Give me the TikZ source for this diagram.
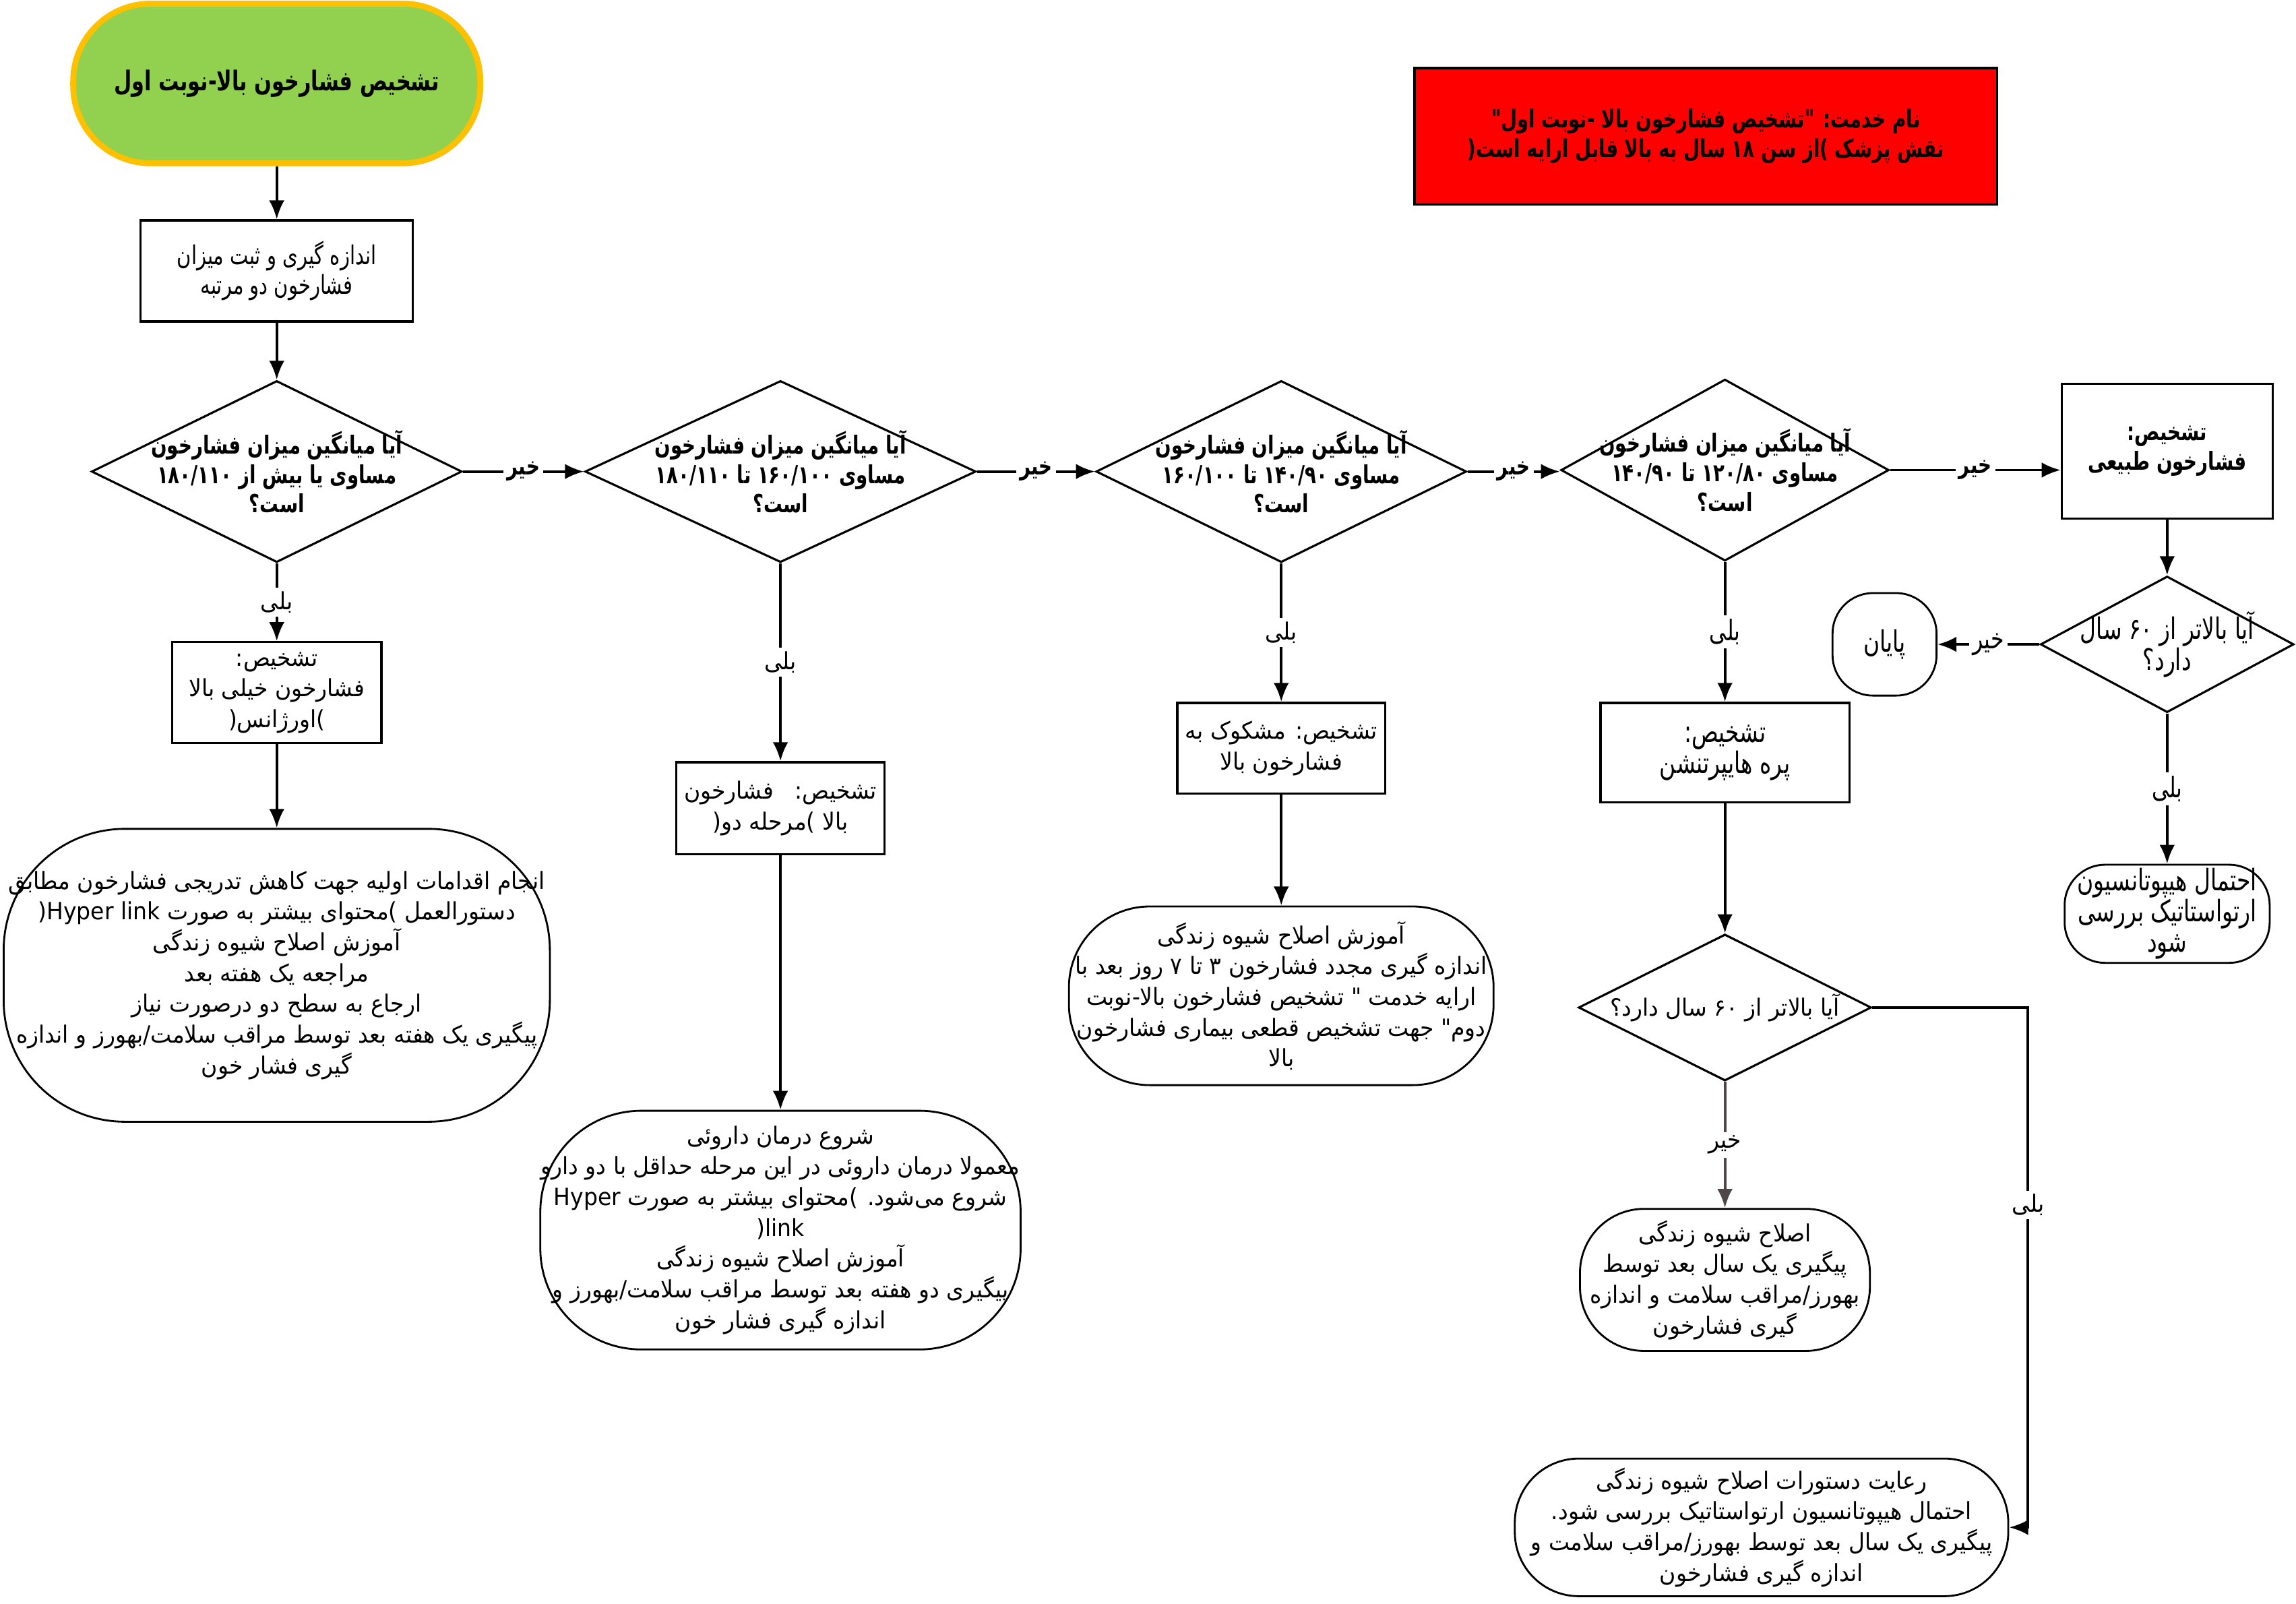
\documentclass[tikz,border=0pt]{standalone}
\usepackage{fontspec}
\usetikzlibrary{shapes.geometric,arrows.meta}
\TeXXeTstate=1
\newfontfamily\fasans[Script=Arabic,FakeStretch=0.94]{DejaVu Sans}
\newfontfamily\fanarrow[Script=Arabic,FakeStretch=0.75]{DejaVu Sans}
\definecolor{startgreen}{HTML}{92D050}
\definecolor{startorange}{HTML}{FFC000}
\definecolor{edgegray}{HTML}{4D4845}
\tikzset{
  sz/.style 2 args={minimum width=#1*0.2173mm,minimum height=#2*0.2173mm},
  box/.style={draw,line width=0.9pt,inner sep=0pt},
  dia/.style={draw,diamond,line width=0.9pt,inner sep=0pt},
  term/.style={draw,line width=0.8pt,inner sep=0pt,rounded corners=#1},
  tsans/.style={align=center,font=\fasans\fontsize{10}{13}\selectfont},
  tnar/.style={align=center,font=\fanarrow\fontsize{11}{12.5}\selectfont},
  tnarl/.style={align=center,font=\fanarrow\fontsize{12.5}{13}\selectfont},
  tnarb/.style={align=center,font=\fanarrow\bfseries\fontsize{10.5}{12.5}\selectfont},
  arr/.style={line width=1.1pt,-{Latex[length=8pt,width=6.5pt]}},
  lbl/.style={fill=white,inner sep=1.5pt,font=\fasans\fontsize{10}{12}\selectfont},
  lbln/.style={fill=white,inner sep=1.5pt,font=\fanarrow\fontsize{12}{13}\selectfont},
  lblb/.style={fill=white,inner sep=1.5pt,font=\fanarrow\bfseries\fontsize{10.5}{12}\selectfont}
}
\begin{document}
\begin{tikzpicture}[x=0.2173mm,y=-0.2173mm]
\useasboundingbox (0,0) rectangle (1568,1095);
% start and note
\node[term=1.15cm,sz={278}{109},fill=startgreen,draw=startorange,line width=2.5pt,
  font=\fanarrow\bfseries\fontsize{11.5}{14}\selectfont] (start) at (189,57) {\beginR تشخیص فشارخون بالا-نوبت اول\endR};
\node[box,fill=red,sz={398}{93},label={[tnarb]center:{\beginR نام خدمت: "تشخیص فشارخون بالا -نوبت اول"\endR\\\beginR نقش پزشک )از سن ۱۸ سال به بالا قابل ارایه است(\endR}}] (note) at (1165,93) {};
% first column
\node[box,sz={186}{69},label={[tnar]center:{\beginR اندازه گیری و ثبت میزان\endR\\\beginR فشارخون دو مرتبه\endR}}] (meas) at (189,185) {};
\node[dia,sz={253}{124},label={[tnarb]center:{\beginR آیا میانگین میزان فشارخون\endR\\\beginR مساوی یا بیش از ۱۸۰/۱۱۰\endR\\\beginR است؟\endR}}] (d1) at (189,322) {};
\node[box,sz={143}{69},label={[tsans]center:{\beginR تشخیص:\endR\\\beginR فشارخون خیلی بالا\endR\\\beginR )اورژانس(\endR}}] (vhigh) at (189,473) {};
\node[term=1.8cm,sz={373}{200},label={[tsans]center:{\beginR انجام اقدامات اولیه جهت کاهش تدریجی فشارخون مطابق\endR\\\beginR دستورالعمل )محتوای بیشتر به صورت \beginL Hyper link\endL{}(\endR\\\beginR آموزش اصلاح شیوه زندگی\endR\\\beginR مراجعه یک هفته بعد\endR\\\beginR ارجاع به سطح دو درصورت نیاز\endR\\\beginR پیگیری یک هفته بعد توسط مراقب سلامت/بهورز و اندازه\endR\\\beginR گیری فشار خون\endR}}] (init) at (189,666) {};
% second column
\node[dia,sz={267}{124},label={[tnarb]center:{\beginR آیا میانگین میزان فشارخون\endR\\\beginR مساوی ۱۶۰/۱۰۰ تا ۱۸۰/۱۱۰\endR\\\beginR است؟\endR}}] (d2) at (533,322) {};
\node[box,sz={142}{63},label={[tsans]center:{\beginR تشخیص:\ \ \ فشارخون\endR\\\beginR بالا )مرحله دو(\endR}}] (st2) at (533,552) {};
\node[term=1.5cm,sz={328}{163},label={[tsans]center:{\beginR شروع درمان داروئی\endR\\\beginR معمولا درمان داروئی در این مرحله حداقل با دو دارو\endR\\\beginR شروع می‌شود. )محتوای بیشتر به صورت \beginL Hyper\endL{}\endR\\\beginR\beginL link\endL{}(\endR\\\beginR آموزش اصلاح شیوه زندگی\endR\\\beginR پیگیری دو هفته بعد توسط مراقب سلامت/بهورز و\endR\\\beginR اندازه گیری فشار خون\endR}}] (drug) at (533,840) {};
% third column
\node[dia,sz={253}{124},label={[tnarb]center:{\beginR آیا میانگین میزان فشارخون\endR\\\beginR مساوی ۱۴۰/۹۰ تا ۱۶۰/۱۰۰\endR\\\beginR است؟\endR}}] (d3) at (875,322) {};
\node[box,sz={142}{62},label={[tsans]center:{\beginR تشخیص: مشکوک به\endR\\\beginR فشارخون بالا\endR}}] (susp) at (875,511) {};
\node[term=1.2cm,sz={290}{122},label={[tsans]center:{\beginR آموزش اصلاح شیوه زندگی\endR\\\beginR اندازه گیری مجدد فشارخون ۳ تا ۷ روز بعد با\endR\\\beginR ارایه خدمت " تشخیص فشارخون بالا-نوبت\endR\\\beginR دوم" جهت تشخیص قطعی بیماری فشارخون\endR\\\beginR بالا\endR}}] (recheck) at (875,680) {};
% fourth column
\node[dia,sz={224}{124},label={[tnarb]center:{\beginR آیا میانگین میزان فشارخون\endR\\\beginR مساوی ۱۲۰/۸۰ تا ۱۴۰/۹۰\endR\\\beginR است؟\endR}}] (d4) at (1178,321) {};
\node[box,sz={170}{68},label={[tnarl]center:{\beginR تشخیص:\endR\\\beginR پره هایپرتنشن\endR}}] (pre) at (1178,514) {};
\node[dia,sz={200}{100},label={[tsans]center:{\beginR آیا بالاتر از ۶۰ سال دارد؟\endR}}] (d6) at (1178,688) {};
\node[term=0.95cm,sz={198}{97},label={[tsans]center:{\beginR اصلاح شیوه زندگی\endR\\\beginR پیگیری یک سال بعد توسط\endR\\\beginR بهورز/مراقب سلامت و اندازه\endR\\\beginR گیری فشارخون\endR}}] (life) at (1178,874) {};
\node[term=0.95cm,sz={337}{94},label={[tsans]center:{\beginR رعایت دستورات اصلاح شیوه زندگی\endR\\\beginR احتمال هیپوتانسیون ارتواستاتیک بررسی شود.\endR\\\beginR پیگیری یک سال بعد توسط بهورز/مراقب سلامت و\endR\\\beginR اندازه گیری فشارخون\endR}}] (lifeo) at (1203,1043) {};
\coordinate (c6) at (1385,1043);
% right column
\node[box,sz={144}{92},label={[tnarb]center:{\beginR تشخیص:\endR\\\beginR فشارخون طبیعی\endR}}] (nrm) at (1480,308) {};
\node[dia,sz={173}{93},label={[tnarl]center:{\beginR آیا بالاتر از ۶۰ سال\endR\\\beginR دارد؟\endR}}] (d5) at (1480,440) {};
\node[term=0.6cm,sz={71}{70},label={[tnarl]center:{\beginR پایان\endR}}] (endt) at (1287,440) {};
\node[term=0.6cm,sz={140}{67},label={[tnarl]center:{\beginR احتمال هیپوتانسیون\endR\\\beginR ارتواستاتیک بررسی\endR\\\beginR شود\endR}}] (hyp) at (1480,624) {};
% connectors
\draw[arr] (start) -- (meas);
\draw[arr] (meas) -- (d1);
\draw[arr] (d1) -- node[lblb]{\beginR خیر\endR} (d2);
\draw[arr] (d2) -- node[lblb]{\beginR خیر\endR} (d3);
\draw[arr] (d3.east) -- node[lblb]{\beginR خیر\endR} (d3.east -| d4.west);
\draw[arr] (d4.east) -- node[lblb]{\beginR خیر\endR} (d4.east -| nrm.west);
\draw[arr] (nrm) -- (d5);
\draw[arr] (d5) -- node[lbln]{\beginR خیر\endR} (endt);
\draw[arr] (d5) -- node[lbln]{\beginR بلی\endR} (hyp);
\draw[arr] (d1) -- node[lbl]{\beginR بلی\endR} (vhigh);
\draw[arr] (vhigh) -- (init);
\draw[arr] (d2) -- node[lbl]{\beginR بلی\endR} (st2);
\draw[arr] (st2) -- (drug);
\draw[arr] (d3) -- node[lbl]{\beginR بلی\endR} (susp);
\draw[arr] (susp) -- (recheck);
\draw[arr] (d4) -- node[lbln]{\beginR بلی\endR} (pre);
\draw[arr] (pre) -- (d6);
\draw[arr,edgegray] (d6) -- node[lbl,text=black]{\beginR خیر\endR} (life);
\draw[arr] (d6.east) -| node[pos=0.69,lbl]{\beginR بلی\endR} (c6) -- (lifeo.east);
\end{tikzpicture}
\end{document}
